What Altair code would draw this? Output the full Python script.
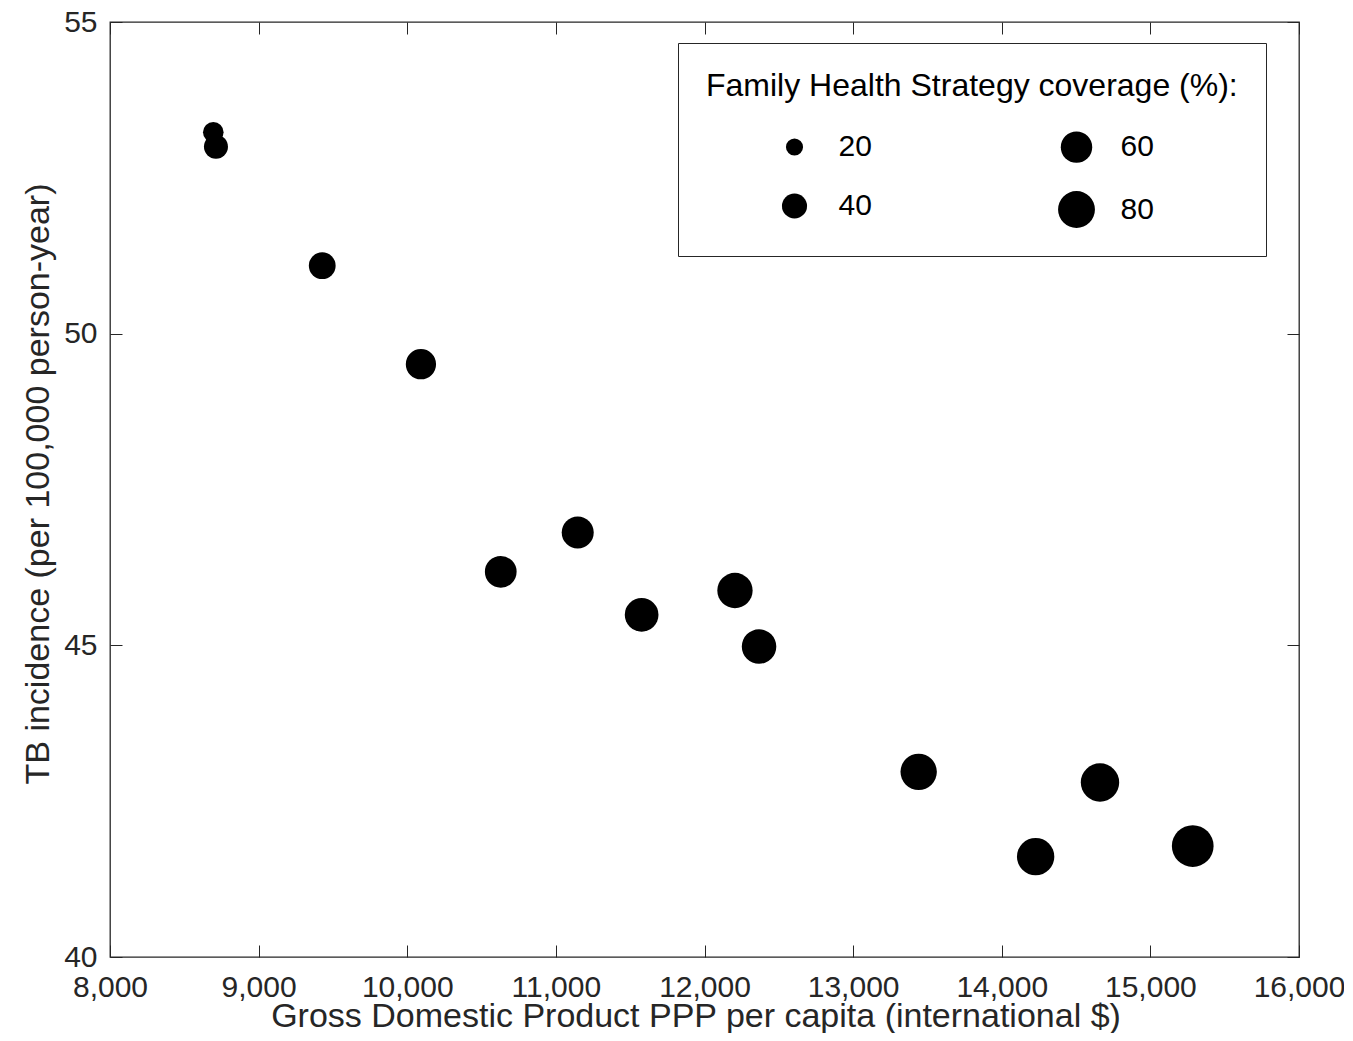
import altair as alt
import pandas as pd

gdp = [8695, 8713, 9428, 10092, 10629, 11147, 11577, 12205, 12367, 13441, 14228, 14661, 15285]
tb = [53.23, 53.00, 51.09, 49.51, 46.18, 46.81, 45.49, 45.88, 44.98, 42.97, 41.61, 42.80, 41.78]
coverage = [28, 37, 45, 56, 61, 62, 68, 74, 71, 78, 82, 86, 100]

x_ticks = [8000, 9000, 10000, 11000, 12000, 13000, 14000, 15000, 16000]
y_ticks = [40, 45, 50, 55]
legend_values = [20, 40, 60, 80]

df = pd.DataFrame({"gdp": gdp, "tb": tb, "coverage": coverage})

W, H = 1189, 935
FONT = "Liberation Sans"
TXT = "#262626"

xscale = alt.Scale(domain=[8000, 16000], nice=False, zero=False)
yscale = alt.Scale(domain=[40, 55], nice=False, zero=False)

base = alt.Chart(df)

points = base.mark_circle(color="black", opacity=1).encode(
    x=alt.X("gdp:Q", scale=xscale,
            title="Gross Domestic Product PPP per capita (international $)",
            axis=alt.Axis(orient="bottom", values=x_ticks, format=",d", ticks=False, tickSize=0,
                          domain=False, grid=False, labelPadding=15, labelFontSize=30,
                          labelFlush=False, labelOverlap=False,
                          labelFont=FONT, labelColor=TXT, titleFont=FONT, titleFontSize=34,
                          titleFontWeight="normal", titleColor=TXT, titleY=69,
                          titleX=W / 2 - 9, titleBaseline="alphabetic")),
    y=alt.Y("tb:Q", scale=yscale,
            title="TB incidence (per 100,000 person-year)",
            axis=alt.Axis(orient="left", values=y_ticks, ticks=False, tickSize=0,
                          domain=False, grid=False, labelPadding=13, labelFontSize=30,
                          labelFlush=False, labelOverlap=False,
                          labelFont=FONT, labelColor=TXT, titleFont=FONT, titleFontSize=34,
                          titleFontWeight="normal", titleColor=TXT, titleX=-62, titleY=H / 2 - 6,
                          titleBaseline="alphabetic", titleAngle=-90, titleAlign="center")),
    size=alt.Size("coverage:Q",
                  scale=alt.Scale(type="pow", exponent=1.11, domain=[0, 80], range=[0, 1360]),
                  legend=alt.Legend(
                      title="Family Health Strategy coverage (%):",
                      values=legend_values, columns=2, direction="vertical", orient="none",
                      legendX=568, legendY=21, padding=28,
                      strokeColor=TXT, fillColor="white",
                      titleFont=FONT, titleFontSize=32, titleFontWeight="normal",
                      titleColor="black", titleAnchor="start", titlePadding=28, titleLimit=1000,
                      labelFont=FONT, labelFontSize=30, labelColor="black", labelLimit=200,
                      symbolFillColor="black", symbolStrokeWidth=0, symbolOpacity=1,
                      symbolType="circle", symbolOffset=70, labelOffset=25.5,
                      columnPadding=116, rowPadding=28)),
)

tick_axis_a = base.mark_circle(opacity=0).encode(
    x=alt.X("gdp:Q", scale=xscale, title=None,
            axis=alt.Axis(orient="top", offset=-H, values=x_ticks, labels=False, domain=False,
                          grid=False, tickSize=12, tickColor=TXT, tickWidth=1)),
    y=alt.Y("tb:Q", scale=yscale, title=None,
            axis=alt.Axis(orient="right", offset=-W, values=y_ticks, labels=False, domain=False,
                          grid=False, tickSize=12, tickColor=TXT, tickWidth=1)),
)

tick_axis_b = base.mark_circle(opacity=0).encode(
    x=alt.X("gdp:Q", scale=xscale, title=None,
            axis=alt.Axis(orient="bottom", offset=-H, values=x_ticks, labels=False, domain=False,
                          grid=False, tickSize=12, tickColor=TXT, tickWidth=1)),
    y=alt.Y("tb:Q", scale=yscale, title=None,
            axis=alt.Axis(orient="left", offset=-W, values=y_ticks, labels=False, domain=False,
                          grid=False, tickSize=12, tickColor=TXT, tickWidth=1)),
)

chart = alt.layer(points, tick_axis_a, tick_axis_b).resolve_axis(
    x="independent", y="independent"
).properties(
    width=W, height=H,
    autosize=alt.AutoSizeParams(type="none"),
    padding={"left": 102, "top": 14, "right": 45, "bottom": 76},
    background="white",
).configure_view(stroke=TXT, strokeWidth=1.3)

chart.save("out.html", embed_options={"renderer": "svg", "actions": False})
